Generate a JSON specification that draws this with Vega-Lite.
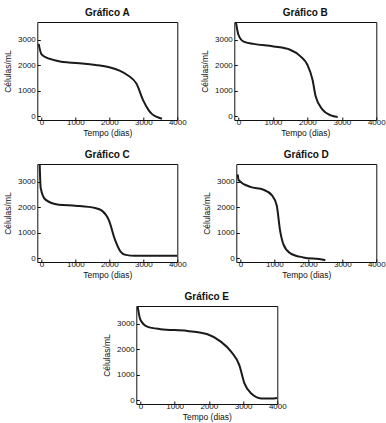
{
  "$schema": "https://vega.github.io/schema/vega-lite/v6.json",
  "padding": {"left": 3, "top": 7, "right": 2, "bottom": 0},
  "background": "white",
  "datasets": {
    "curves": [
      {"g": "A", "t": -80, "c": 2840},
      {"g": "A", "t": 0, "c": 2440},
      {"g": "A", "t": 150, "c": 2300},
      {"g": "A", "t": 300, "c": 2230},
      {"g": "A", "t": 550, "c": 2150},
      {"g": "A", "t": 800, "c": 2110},
      {"g": "A", "t": 1200, "c": 2070},
      {"g": "A", "t": 1600, "c": 2010},
      {"g": "A", "t": 2000, "c": 1920},
      {"g": "A", "t": 2300, "c": 1790},
      {"g": "A", "t": 2550, "c": 1600},
      {"g": "A", "t": 2800, "c": 1270},
      {"g": "A", "t": 3000, "c": 610},
      {"g": "A", "t": 3150, "c": 250},
      {"g": "A", "t": 3250, "c": 90},
      {"g": "A", "t": 3400, "c": -30},
      {"g": "A", "t": 3550, "c": -100},
      {"g": "B", "t": -70, "c": 3680},
      {"g": "B", "t": 0, "c": 3200},
      {"g": "B", "t": 150, "c": 2930},
      {"g": "B", "t": 440, "c": 2840},
      {"g": "B", "t": 1020, "c": 2740},
      {"g": "B", "t": 1500, "c": 2610},
      {"g": "B", "t": 1800, "c": 2350},
      {"g": "B", "t": 2000, "c": 2020},
      {"g": "B", "t": 2150, "c": 1430},
      {"g": "B", "t": 2240, "c": 780},
      {"g": "B", "t": 2440, "c": 260},
      {"g": "B", "t": 2680, "c": 30},
      {"g": "B", "t": 2880, "c": -30},
      {"g": "C", "t": -50, "c": 3690},
      {"g": "C", "t": -20, "c": 2760},
      {"g": "C", "t": 120, "c": 2300},
      {"g": "C", "t": 510, "c": 2100},
      {"g": "C", "t": 1000, "c": 2060},
      {"g": "C", "t": 1580, "c": 1970},
      {"g": "C", "t": 1780, "c": 1870},
      {"g": "C", "t": 2000, "c": 1450},
      {"g": "C", "t": 2150, "c": 790},
      {"g": "C", "t": 2330, "c": 260},
      {"g": "C", "t": 2480, "c": 130},
      {"g": "C", "t": 2760, "c": 95},
      {"g": "C", "t": 3300, "c": 95},
      {"g": "C", "t": 4000, "c": 95},
      {"g": "D", "t": -80, "c": 3290},
      {"g": "D", "t": -50, "c": 3070},
      {"g": "D", "t": 290, "c": 2800},
      {"g": "D", "t": 680, "c": 2690},
      {"g": "D", "t": 930, "c": 2470},
      {"g": "D", "t": 1070, "c": 2070},
      {"g": "D", "t": 1170, "c": 1070},
      {"g": "D", "t": 1270, "c": 530},
      {"g": "D", "t": 1460, "c": 200},
      {"g": "D", "t": 1850, "c": 30},
      {"g": "D", "t": 2440, "c": -60},
      {"g": "D", "t": 2500, "c": -80},
      {"g": "E", "t": -80, "c": 3680},
      {"g": "E", "t": 0, "c": 3160},
      {"g": "E", "t": 200, "c": 2890},
      {"g": "E", "t": 590, "c": 2790},
      {"g": "E", "t": 1370, "c": 2720},
      {"g": "E", "t": 1960, "c": 2590},
      {"g": "E", "t": 2350, "c": 2300},
      {"g": "E", "t": 2650, "c": 1910},
      {"g": "E", "t": 2890, "c": 1380},
      {"g": "E", "t": 3040, "c": 660},
      {"g": "E", "t": 3240, "c": 260},
      {"g": "E", "t": 3530, "c": 70},
      {"g": "E", "t": 3820, "c": 70},
      {"g": "E", "t": 4000, "c": 90}
    ]
  },
  "config": {
    "font": "Liberation Sans",
    "view": {"stroke": "#111", "strokeWidth": 1},
    "title": {"fontSize": 10, "fontWeight": "bold", "color": "#111", "offset": 4},
    "axis": {
      "grid": false,
      "domain": false,
      "tickSize": -3,
      "tickColor": "#111",
      "labelPadding": 5,
      "labelFontSize": 8,
      "labelColor": "#111",
      "labelFlush": false,
      "labelOverlap": false,
      "format": "d",
      "titleFontSize": 8.5,
      "titleFontWeight": "normal",
      "titleColor": "#111",
      "titlePadding": 2
    },
    "axisX": {"labelPadding": 1.5},
    "axisY": {"titlePadding": 5}
  },
  "spacing": 11,
  "center": true,
  "vconcat": [
    {
      "hconcat": [
        {
          "title": "Gráfico A", "width": 140, "height": 98,
          "data": {"name": "curves"},
          "transform": [{"filter": "datum.g === 'A'"}],
          "mark": {"type": "line", "clip": true, "color": "#1a1a1a", "strokeWidth": 2, "interpolate": "monotone"},
          "encoding": {
            "x": {"field": "t", "type": "quantitative", "title": "Tempo (dias)", "scale": {"domain": [-120, 4000], "nice": false, "zero": false}, "axis": {"values": [0, 1000, 2000, 3000, 4000]}},
            "y": {"field": "c", "type": "quantitative", "title": "Células/mL", "scale": {"domain": [-150, 3700], "nice": false, "zero": false}, "axis": {"values": [0, 1000, 2000, 3000]}}
          }
        },
        {
          "title": "Gráfico B", "width": 142, "height": 98,
          "data": {"name": "curves"},
          "transform": [{"filter": "datum.g === 'B'"}],
          "mark": {"type": "line", "clip": true, "color": "#1a1a1a", "strokeWidth": 2, "interpolate": "monotone"},
          "encoding": {
            "x": {"field": "t", "type": "quantitative", "title": "Tempo (dias)", "scale": {"domain": [-120, 4000], "nice": false, "zero": false}, "axis": {"values": [0, 1000, 2000, 3000, 4000]}},
            "y": {"field": "c", "type": "quantitative", "title": "Células/mL", "scale": {"domain": [-150, 3700], "nice": false, "zero": false}, "axis": {"values": [0, 1000, 2000, 3000]}}
          }
        }
      ],
      "spacing": 12
    },
    {
      "hconcat": [
        {
          "title": "Gráfico C", "width": 140, "height": 98,
          "data": {"name": "curves"},
          "transform": [{"filter": "datum.g === 'C'"}],
          "mark": {"type": "line", "clip": true, "color": "#1a1a1a", "strokeWidth": 2, "interpolate": "monotone"},
          "encoding": {
            "x": {"field": "t", "type": "quantitative", "title": "Tempo (dias)", "scale": {"domain": [-120, 4000], "nice": false, "zero": false}, "axis": {"values": [0, 1000, 2000, 3000, 4000]}},
            "y": {"field": "c", "type": "quantitative", "title": "Células/mL", "scale": {"domain": [-150, 3700], "nice": false, "zero": false}, "axis": {"values": [0, 1000, 2000, 3000]}}
          }
        },
        {
          "title": "Gráfico D", "width": 140, "height": 98,
          "data": {"name": "curves"},
          "transform": [{"filter": "datum.g === 'D'"}],
          "mark": {"type": "line", "clip": true, "color": "#1a1a1a", "strokeWidth": 2, "interpolate": "monotone"},
          "encoding": {
            "x": {"field": "t", "type": "quantitative", "title": "Tempo (dias)", "scale": {"domain": [-120, 4000], "nice": false, "zero": false}, "axis": {"values": [0, 1000, 2000, 3000, 4000]}},
            "y": {"field": "c", "type": "quantitative", "title": "Células/mL", "scale": {"domain": [-150, 3700], "nice": false, "zero": false}, "axis": {"values": [0, 1000, 2000, 3000]}}
          }
        }
      ],
      "spacing": 14
    },
    {
      "title": "Gráfico E", "width": 141, "height": 98,
      "data": {"name": "curves"},
      "transform": [{"filter": "datum.g === 'E'"}],
      "mark": {"type": "line", "clip": true, "color": "#1a1a1a", "strokeWidth": 2, "interpolate": "monotone"},
      "encoding": {
        "x": {"field": "t", "type": "quantitative", "title": "Tempo (dias)", "scale": {"domain": [-120, 4000], "nice": false, "zero": false}, "axis": {"values": [0, 1000, 2000, 3000, 4000]}},
        "y": {"field": "c", "type": "quantitative", "title": "Células/mL", "scale": {"domain": [-150, 3700], "nice": false, "zero": false}, "axis": {"values": [0, 1000, 2000, 3000]}}
      }
    }
  ]
}
